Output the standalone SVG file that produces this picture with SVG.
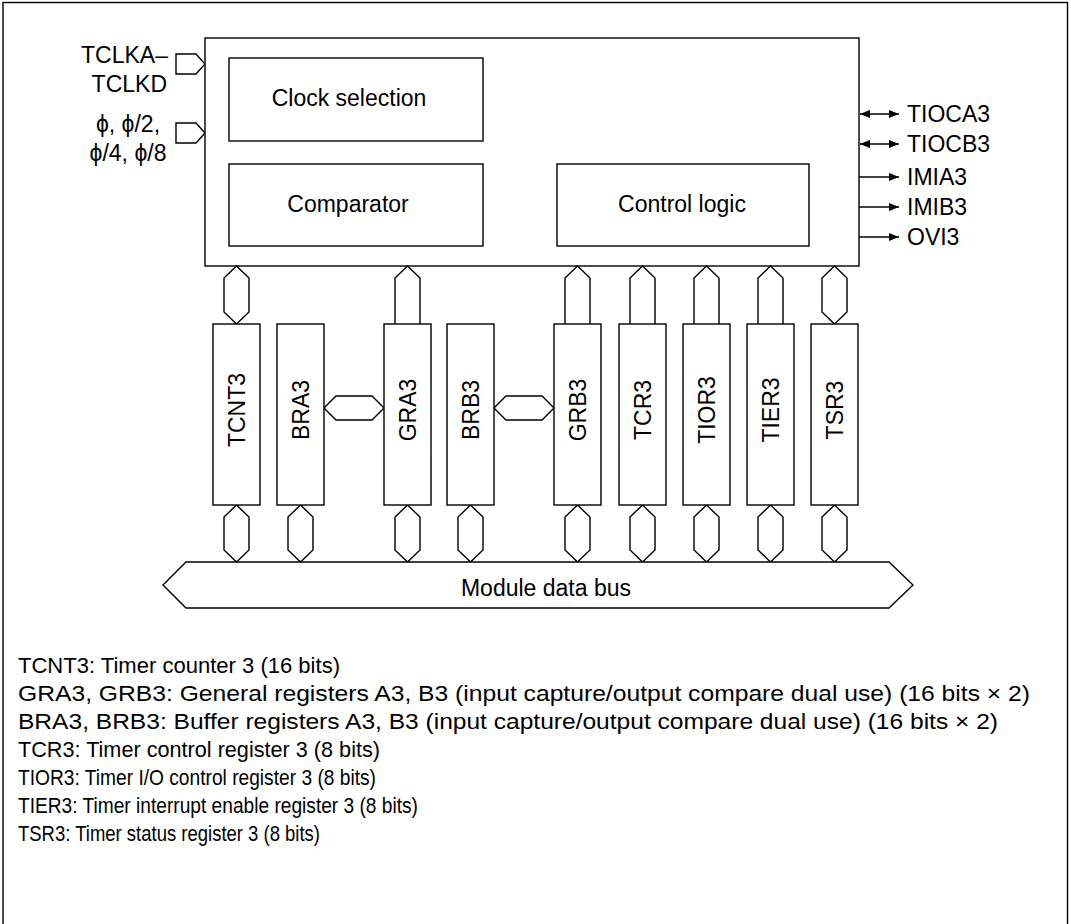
<svg xmlns="http://www.w3.org/2000/svg" width="1071" height="924" viewBox="0 0 1071 924">
<style>
.s{fill:#fff;stroke:#000;stroke-width:1.4}
.n{fill:none;stroke:#000;stroke-width:1.4}
text{font-family:"Liberation Sans",Arial,sans-serif;font-size:23px;fill:#000}
.r{text-anchor:middle}
.b{font-size:22px}
</style>
<defs>
<marker id="ah" viewBox="0 0 10 8" refX="10" refY="4" markerWidth="10" markerHeight="8" markerUnits="userSpaceOnUse" orient="auto-start-reverse">
<path d="M0,0 L10,4 L0,8 z" fill="#000"/>
</marker>
</defs>
<rect x="3" y="2.5" width="1064.5" height="940" class="n"/>

<g id="inputs">
<polygon class="s" points="176,54 196,54 205,64 196,74 176,74"/>
<polygon class="s" points="176,123 196,123 205,133 196,143 176,143"/>
<text x="168" y="63" text-anchor="end">TCLKA–</text>
<text x="167" y="92" text-anchor="end">TCLKD</text>
<text x="128" y="132" class="r">ϕ, ϕ/2,</text>
<text x="128" y="161" class="r">ϕ/4, ϕ/8</text>
</g>

<g id="main-block">
<rect class="s" x="205" y="38" width="654" height="228"/>
</g>
<g id="clock-selection">
<rect class="s" x="229" y="58" width="254" height="83"/>
<text x="349" y="106" class="r">Clock selection</text>
</g>
<g id="comparator">
<rect class="s" x="229" y="164" width="254" height="82"/>
<text x="348" y="212" class="r">Comparator</text>
</g>
<g id="control-logic">
<rect class="s" x="557" y="164" width="252" height="82"/>
<text x="682" y="212" class="r">Control logic</text>
</g>

<g id="connectors">
<line class="n" x1="860" y1="114" x2="899" y2="114" marker-start="url(#ah)" marker-end="url(#ah)"/>
<line class="n" x1="860" y1="144" x2="899" y2="144" marker-start="url(#ah)" marker-end="url(#ah)"/>
<line class="n" x1="859" y1="177" x2="899" y2="177" marker-end="url(#ah)"/>
<line class="n" x1="859" y1="207" x2="899" y2="207" marker-end="url(#ah)"/>
<line class="n" x1="859" y1="237" x2="899" y2="237" marker-end="url(#ah)"/>
<polygon class="s" points="236.5,266 249,278 249,312 236.5,324 224,312 224,278"/>
<polyline class="s" points="395,324 395,278 407.5,266 420,278 420,324"/>
<polyline class="s" points="565,324 565,278 577.5,266 590,278 590,324"/>
<polyline class="s" points="630,324 630,278 642.5,266 655,278 655,324"/>
<polyline class="s" points="694,324 694,278 706.5,266 719,278 719,324"/>
<polyline class="s" points="758,324 758,278 770.5,266 783,278 783,324"/>
<polygon class="s" points="834.5,266 847,278 847,312 834.5,324 822,312 822,278"/>
<polygon class="s" points="324,408 336,396 372,396 384,408 372,420 336,420"/>
<polygon class="s" points="494,408 506,396 542,396 554,408 542,420 506,420"/>
<polygon class="s" points="236.5,505 249,517 249,550 236.5,562 224,550 224,517"/>
<polygon class="s" points="300.5,505 313,517 313,550 300.5,562 288,550 288,517"/>
<polygon class="s" points="407.5,505 420,517 420,550 407.5,562 395,550 395,517"/>
<polygon class="s" points="470.5,505 483,517 483,550 470.5,562 458,550 458,517"/>
<polygon class="s" points="577.5,505 590,517 590,550 577.5,562 565,550 565,517"/>
<polygon class="s" points="642.5,505 655,517 655,550 642.5,562 630,550 630,517"/>
<polygon class="s" points="706.5,505 719,517 719,550 706.5,562 694,550 694,517"/>
<polygon class="s" points="770.5,505 783,517 783,550 770.5,562 758,550 758,517"/>
<polygon class="s" points="834.5,505 847,517 847,550 834.5,562 822,550 822,517"/>
</g>

<g id="outputs">
<text x="907" y="122">TIOCA3</text>
<text x="907" y="152">TIOCB3</text>
<text x="907" y="185">IMIA3</text>
<text x="907" y="215">IMIB3</text>
<text x="907" y="245">OVI3</text>
</g>

<g id="TCNT3"><rect class="s" x="213" y="324" width="47" height="181"/><text class="r" transform="translate(244.8,410) rotate(-90)">TCNT3</text></g>
<g id="BRA3"><rect class="s" x="277" y="324" width="47" height="181"/><text class="r" transform="translate(308.8,410) rotate(-90)">BRA3</text></g>
<g id="GRA3"><rect class="s" x="384" y="324" width="47" height="181"/><text class="r" transform="translate(415.8,410) rotate(-90)">GRA3</text></g>
<g id="BRB3"><rect class="s" x="447" y="324" width="47" height="181"/><text class="r" transform="translate(478.8,410) rotate(-90)">BRB3</text></g>
<g id="GRB3"><rect class="s" x="554" y="324" width="47" height="181"/><text class="r" transform="translate(585.8,410) rotate(-90)">GRB3</text></g>
<g id="TCR3"><rect class="s" x="619" y="324" width="47" height="181"/><text class="r" transform="translate(650.8,410) rotate(-90)">TCR3</text></g>
<g id="TIOR3"><rect class="s" x="683" y="324" width="47" height="181"/><text class="r" transform="translate(714.8,410) rotate(-90)">TIOR3</text></g>
<g id="TIER3"><rect class="s" x="747" y="324" width="47" height="181"/><text class="r" transform="translate(778.8,410) rotate(-90)">TIER3</text></g>
<g id="TSR3"><rect class="s" x="811" y="324" width="47" height="181"/><text class="r" transform="translate(842.8,410) rotate(-90)">TSR3</text></g>

<g id="module-data-bus">
<polygon class="s" points="163,585 186,562 889,562 913,585 889,608 186,608"/>
<text x="546" y="596" class="r">Module data bus</text>
</g>

<g id="legend">
<text class="b" x="18" y="673" textLength="322" lengthAdjust="spacingAndGlyphs">TCNT3: Timer counter 3 (16 bits)</text>
<text class="b" x="18" y="701" textLength="1012" lengthAdjust="spacingAndGlyphs">GRA3, GRB3: General registers A3, B3 (input capture/output compare dual use) (16 bits × 2)</text>
<text class="b" x="18" y="729" textLength="980" lengthAdjust="spacingAndGlyphs">BRA3, BRB3: Buffer registers A3, B3 (input capture/output compare dual use) (16 bits × 2)</text>
<text class="b" x="18" y="757" textLength="362" lengthAdjust="spacingAndGlyphs">TCR3: Timer control register 3 (8 bits)</text>
<text class="b" x="18" y="785" textLength="358" lengthAdjust="spacingAndGlyphs">TIOR3: Timer I/O control register 3 (8 bits)</text>
<text class="b" x="18" y="813" textLength="400" lengthAdjust="spacingAndGlyphs">TIER3: Timer interrupt enable register 3 (8 bits)</text>
<text class="b" x="18" y="841" textLength="302" lengthAdjust="spacingAndGlyphs">TSR3: Timer status register 3 (8 bits)</text>
</g>
</svg>
